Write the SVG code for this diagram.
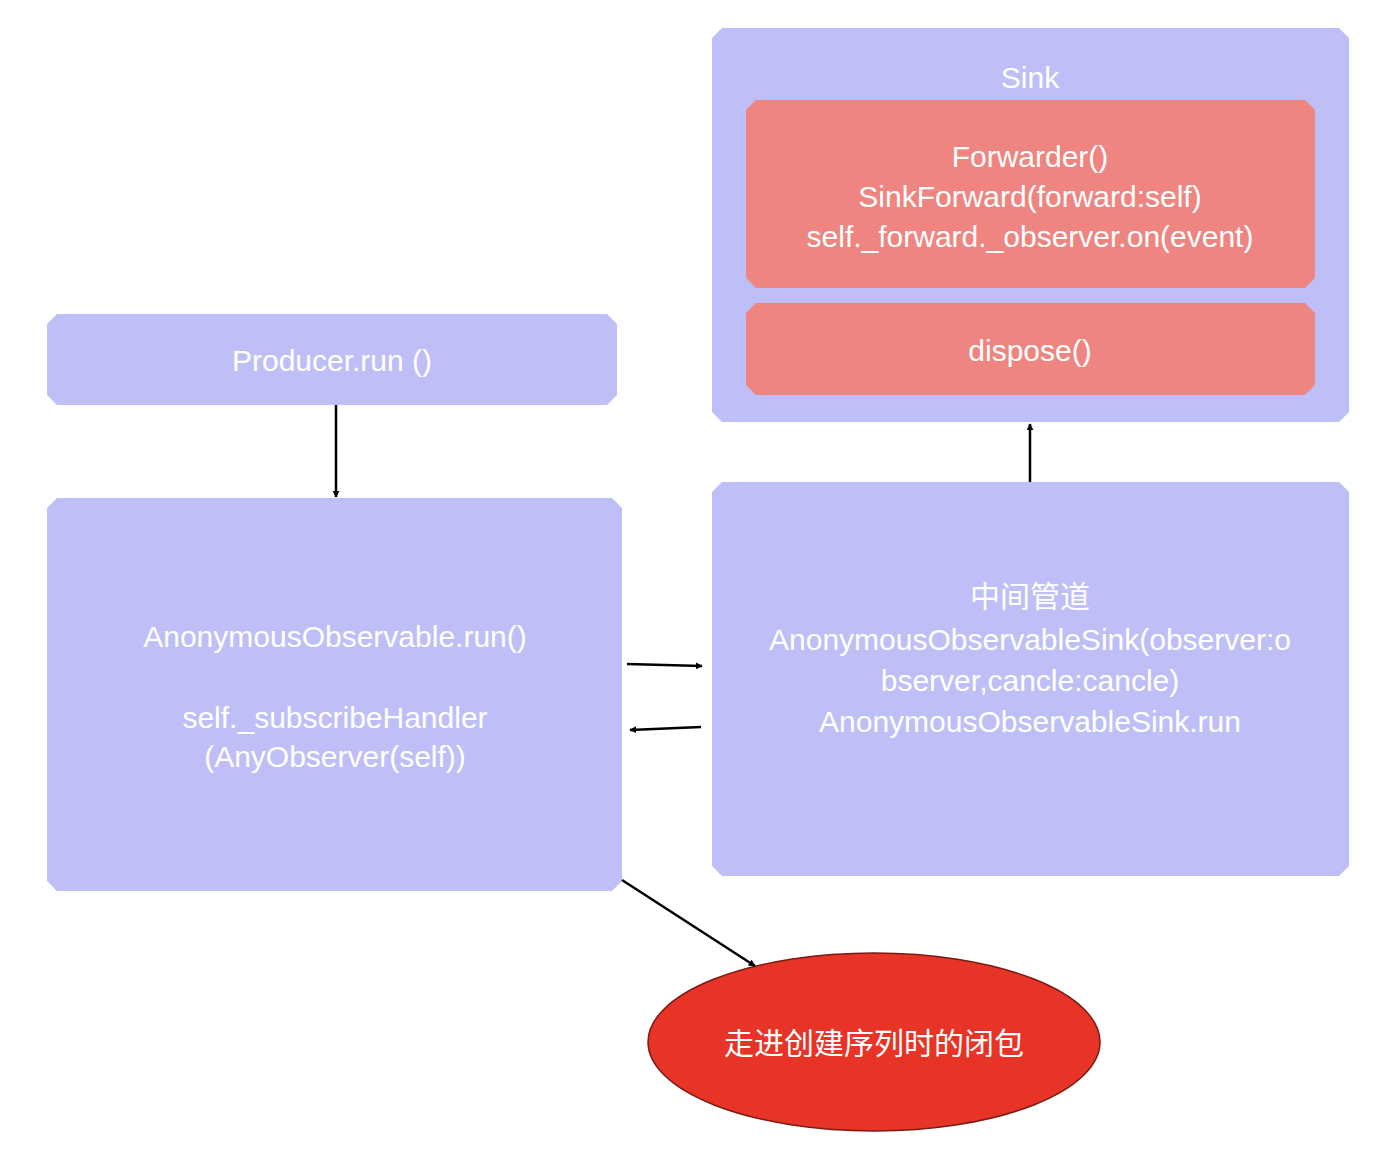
<svg xmlns="http://www.w3.org/2000/svg" width="1400" height="1160" viewBox="0 0 1400 1160">
<style>
.l{fill:#bfbff7}
.s{fill:#ef8580}
text{font-family:"Liberation Sans","Noto Sans CJK SC",sans-serif;fill:#fff;font-size:30px;text-anchor:middle}
.c{stroke:#000;stroke-width:2.5;fill:none;marker-end:url(#a)}
</style>
<defs><marker id="a" viewBox="0 0 10 10" refX="9" refY="5" markerWidth="7" markerHeight="7" orient="auto" markerUnits="userSpaceOnUse" ><path d="M0,0L10,5L0,10z" fill="#000"/></marker></defs>
<rect width="1400" height="1160" fill="#fff"/>
<g id="sink">
<path class="l" d="M722,28H1339L1349,38V412L1339,422H722L712,412V38Z"/>
<text x="1030" y="88" font-size="42">Sink</text>
</g>
<g id="forwarder">
<path class="s" d="M756,100H1305L1315,110V278L1305,288H756L746,278V110Z"/>
<text x="1030" y="167">Forwarder()</text>
<text x="1030" y="207">SinkForward(forward:self)</text>
<text x="1030" y="247">self._forward._observer.on(event)</text>
</g>
<g id="dispose">
<path class="s" d="M756,303H1305L1315,313V385L1305,395H756L746,385V313Z"/>
<text x="1030" y="361">dispose()</text>
</g>
<g id="producer">
<path class="l" d="M57,314H607L617,324V395L607,405H57L47,395V324Z"/>
<text x="332" y="371">Producer.run ()</text>
</g>
<g id="anon">
<path class="l" d="M57,498H612L622,508V881L612,891H57L47,881V508Z"/>
<text x="335" y="647">AnonymousObservable.run()</text>
<text x="335" y="728">self._subscribeHandler</text>
<text x="335" y="767">(AnyObserver(self))</text>
</g>
<g id="middle">
<path class="l" d="M722,482H1339L1349,492V866L1339,876H722L712,866V492Z"/>
<text x="1030" y="607">中间管道</text>
<text x="1030" y="650">AnonymousObservableSink(observer:o</text>
<text x="1030" y="691">bserver,cancle:cancle)</text>
<text x="1030" y="732">AnonymousObservableSink.run</text>
</g>
<g id="closure">
<ellipse cx="874" cy="1042" rx="226" ry="89" fill="#e83426" stroke="#7a1a12" stroke-width="1.5"/>
<text x="874" y="1054">走进创建序列时的闭包</text>
</g>
<g id="connectors">
<path class="c" d="M336,405V497"/>
<path class="c" d="M1030,482V424"/>
<path class="c" d="M627,664L702,666"/>
<path class="c" d="M701,727L630,730"/>
<path class="c" d="M622,880L755,966"/>
</g>
</svg>
